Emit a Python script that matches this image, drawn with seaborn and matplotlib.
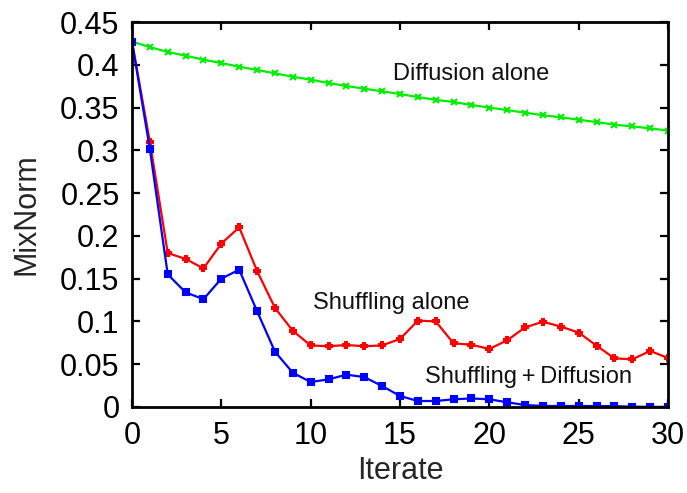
import numpy as np
import pandas as pd
import matplotlib
matplotlib.use("Agg")
import matplotlib.pyplot as plt
import seaborn as sns

iterate = list(range(31))
diffusion_alone = [0.427, 0.4207, 0.415, 0.4106, 0.406, 0.402, 0.3977, 0.394, 0.390, 0.386,
                   0.3826, 0.3787, 0.3752, 0.372, 0.369, 0.3658, 0.3623, 0.359, 0.3565, 0.353,
                   0.350, 0.347, 0.344, 0.341, 0.3386, 0.3358, 0.333, 0.330, 0.328, 0.3257, 0.323]
shuffling_alone = [0.427, 0.310, 0.180, 0.173, 0.162, 0.191, 0.210, 0.159, 0.116, 0.089,
                   0.072, 0.071, 0.0725, 0.071, 0.072, 0.0795, 0.101, 0.100, 0.0744, 0.0728,
                   0.0678, 0.078, 0.093, 0.0997, 0.094, 0.087, 0.0717, 0.0569, 0.0557, 0.0655, 0.0573]
shuffling_diffusion = [0.427, 0.3015, 0.155, 0.134, 0.126, 0.150, 0.1605, 0.112, 0.0647, 0.040,
                       0.0292, 0.0323, 0.0378, 0.035, 0.0245, 0.0129, 0.007, 0.007, 0.009, 0.010,
                       0.009, 0.0055, 0.0023, 0.0012, 0.0012, 0.0011, 0.0011, 0.0010, 0.0004, 0.0002, 0.0]

labels = ["Diffusion alone", "Shuffling alone", "Shuffling\u2009+\u2009Diffusion"]
colors = ["#00ee00", "#ff0000", "#0000ff"]
markers = ["x", "P", "s"]
msizes = [5, 4.5, 4.5]
series = [diffusion_alone, shuffling_alone, shuffling_diffusion]

sns.set_theme(style="ticks")
plt.rcParams['font.family'] = ['Liberation Sans', 'DejaVu Sans']

fig = plt.figure(figsize=(6.87, 4.93), dpi=100)
ax = fig.add_axes([132/687, 1-407/493, (668-132)/687, (407-22)/493])

for lab, col, mk, ms, vals in zip(labels, colors, markers, msizes, series):
    df = pd.DataFrame({"Iterate": iterate, "MixNorm": vals})
    sns.lineplot(data=df, x="Iterate", y="MixNorm", ax=ax, color=col, marker=mk,
                 markersize=ms, markeredgecolor=col, markeredgewidth=1.5, linewidth=1.6)

ax.set_xlim(0, 30)
ax.set_ylim(0, 0.45)
ax.set_xticks([0, 5, 10, 15, 20, 25, 30])
ax.set_yticks(np.arange(0, 0.451, 0.05))
ax.set_yticklabels(["0", "0.05", "0.1", "0.15", "0.2", "0.25", "0.3", "0.35", "0.4", "0.45"])
ax.tick_params(direction="in", top=True, right=True, length=6, width=1.6,
               labelsize=22, colors="black")
ax.tick_params(axis="y", pad=9)
ax.tick_params(axis="x", pad=10)
for s in ax.spines.values():
    s.set_linewidth(2.0)
    s.set_color("black")
ax.set_xlabel("Iterate", fontsize=22, labelpad=4)
ax.set_ylabel("MixNorm", fontsize=22, labelpad=13)

ax.text(19.0, 0.382, labels[0], fontsize=17, ha="center", va="baseline", color="#111111")
ax.text(14.52, 0.1145, labels[1], fontsize=17, ha="center", va="baseline", color="#111111")
ax.text(22.22, 0.028, labels[2], fontsize=17, ha="center", va="baseline", color="#111111")

fig.savefig("out.png", dpi=100)
